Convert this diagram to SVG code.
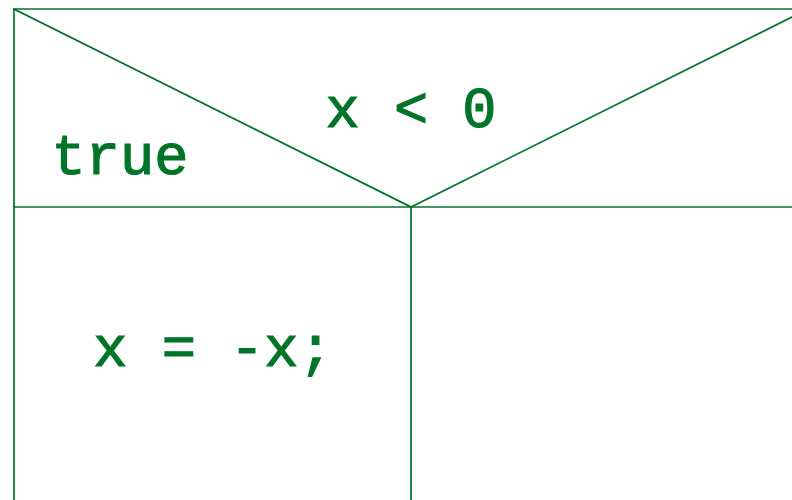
<svg xmlns="http://www.w3.org/2000/svg" width="792" height="500" viewBox="0 0 792 500">
<style>
.ln{stroke:#00752a;stroke-width:1.7;fill:none;stroke-linecap:square}
.t{font-family:"Courier New","Nimbus Mono PS","Liberation Mono",monospace;font-size:57px;fill:#00752a;stroke:#00752a;stroke-width:1.2}
</style>
<rect width="792" height="500" fill="#ffffff"/>
<g id="connectors">
<line class="ln" x1="14" y1="9" x2="800" y2="9"/>
<line class="ln" x1="14" y1="9" x2="14" y2="505"/>
<line class="ln" x1="14" y1="9" x2="411" y2="207"/>
<line class="ln" x1="411" y1="207" x2="808" y2="9"/>
<line class="ln" x1="14" y1="207" x2="800" y2="207"/>
<line class="ln" x1="411" y1="207" x2="411" y2="505"/>
</g>
<g id="condition"><text class="t" x="411" y="127" text-anchor="middle">x &lt; 0</text></g>
<g id="true-label"><text class="t" x="120" y="174" text-anchor="middle">true</text></g>
<g id="true-branch"><text class="t" x="213" y="366" text-anchor="middle">x = -x;</text></g>
<g id="false-branch"></g>
</svg>
